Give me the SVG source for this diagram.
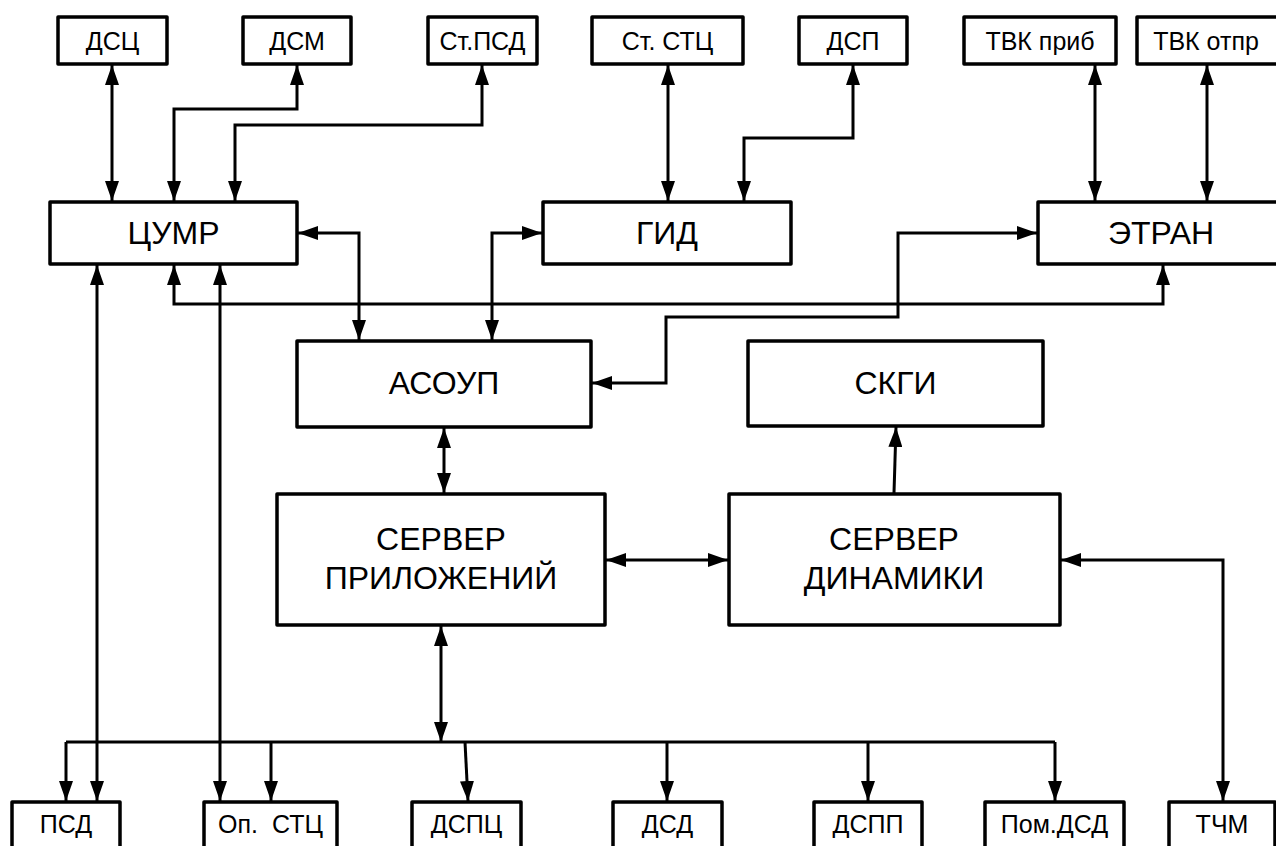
<svg xmlns="http://www.w3.org/2000/svg" width="1276" height="846" viewBox="0 0 1276 846">
<style>
.box{fill:#fff;stroke:#000;stroke-width:3.5;stroke-linejoin:round}
.ln{fill:none;stroke:#000;stroke-width:3}
.t{font-family:"Liberation Sans",Arial,sans-serif;font-size:25px;fill:#000;text-anchor:middle;white-space:pre}
.tl{font-family:"Liberation Sans",Arial,sans-serif;font-size:32px;fill:#000;text-anchor:middle}
.b2{marker-start:url(#ah);marker-end:url(#ah)}
.b1{marker-end:url(#ah)}
</style>
<defs>
<marker id="ah" markerUnits="userSpaceOnUse" markerWidth="20" markerHeight="14" viewBox="0 0 20 14" refX="20" refY="7" orient="auto-start-reverse">
<path d="M0,0 L20,7 L0,14 z" fill="#000"/>
</marker>
</defs>
<rect width="1276" height="846" fill="#fff"/>
<g id="connectors">
<path class="ln b2" d="M112,65 V201"/>
<path class="ln b2" d="M297,65 V109 H174 V201"/>
<path class="ln b2" d="M482,65 V125 H235 V201"/>
<path class="ln b2" d="M298,233 H359 V340"/>
<path class="ln b2" d="M542,233 H492 V340"/>
<path class="ln b2" d="M668,65 V201"/>
<path class="ln b2" d="M853,65 V138 H744 V201"/>
<path class="ln b2" d="M1095,65 V201"/>
<path class="ln b2" d="M1207,65 V201"/>
<path class="ln b2" d="M174,265 V304 H1163 V265"/>
<path class="ln b2" d="M1037,233 H898 V317 H666 V383 H592"/>
<path class="ln b2" d="M444,428 V493"/>
<path class="ln b2" d="M606,560 H728"/>
<path class="ln b1" d="M894,493 L896,427"/>
<path class="ln b2" d="M1061,560 H1223 V801"/>
<path class="ln b2" d="M441,626 V742"/>
<path class="ln" d="M66,742 H1055"/>
<path class="ln b1" d="M66,742 V801"/>
<path class="ln b1" d="M271,742 V801"/>
<path class="ln b1" d="M465,742 L468,801"/>
<path class="ln b1" d="M667,742 V801"/>
<path class="ln b1" d="M868,742 V801"/>
<path class="ln b1" d="M1055,742 V801"/>
<path class="ln b2" d="M97,265 V801"/>
<path class="ln b2" d="M220,265 V801"/>
</g>
<g id="dsc"><rect class="box" x="58" y="17" width="109" height="47"/><text class="t" x="112.5" y="50">ДСЦ</text></g>
<g id="dsm"><rect class="box" x="243" y="17" width="108" height="47"/><text class="t" x="297" y="50">ДСМ</text></g>
<g id="stpsd"><rect class="box" x="428" y="17" width="109" height="47"/><text class="t" x="482.5" y="50">Ст.ПСД</text></g>
<g id="ststc"><rect class="box" x="592" y="17" width="151" height="47"/><text class="t" x="667.5" y="50">Ст. СТЦ</text></g>
<g id="dsp"><rect class="box" x="799" y="17" width="108" height="47"/><text class="t" x="853" y="50">ДСП</text></g>
<g id="tvkprib"><rect class="box" x="964" y="17" width="152" height="47"/><text class="t" x="1040" y="50">ТВК приб</text></g>
<g id="tvkotpr"><rect class="box" x="1137" y="17" width="141" height="47"/><text class="t" x="1206" y="50">ТВК отпр</text></g>
<g id="tsumr"><rect class="box" x="50" y="202" width="247" height="62"/><text class="tl" x="173.5" y="244">ЦУМР</text></g>
<g id="gid"><rect class="box" x="543" y="202" width="248" height="62"/><text class="tl" x="667" y="244">ГИД</text></g>
<g id="etran"><rect class="box" x="1038" y="202" width="252" height="62"/><text class="tl" x="1161" y="244">ЭТРАН</text></g>
<g id="asoup"><rect class="box" x="297" y="341" width="294" height="86"/><text class="tl" x="444" y="394">АСОУП</text></g>
<g id="skgi"><rect class="box" x="748" y="341" width="295" height="85"/><text class="tl" x="895.5" y="394">СКГИ</text></g>
<g id="server_app"><rect class="box" x="277" y="494" width="328" height="131"/><text class="tl" x="441" y="550">СЕРВЕР</text><text class="tl" x="441" y="589">ПРИЛОЖЕНИЙ</text></g>
<g id="server_dyn"><rect class="box" x="729" y="494" width="331" height="131"/><text class="tl" x="894" y="550">СЕРВЕР</text><text class="tl" x="894" y="589">ДИНАМИКИ</text></g>
<g id="psd"><rect class="box" x="12" y="802" width="108" height="60"/><text class="t" x="66" y="833">ПСД</text></g>
<g id="opstc"><rect class="box" x="204" y="802" width="133" height="60"/><text class="t" x="270.5" y="833">Оп.  СТЦ</text></g>
<g id="dspc"><rect class="box" x="412" y="802" width="109" height="60"/><text class="t" x="466.5" y="833">ДСПЦ</text></g>
<g id="dsd"><rect class="box" x="613" y="802" width="109" height="60"/><text class="t" x="667.5" y="833">ДСД</text></g>
<g id="dspp"><rect class="box" x="814" y="802" width="108" height="60"/><text class="t" x="868" y="833">ДСПП</text></g>
<g id="pomdsd"><rect class="box" x="985" y="802" width="139" height="60"/><text class="t" x="1054.5" y="833">Пом.ДСД</text></g>
<g id="tchm"><rect class="box" x="1169" y="802" width="106" height="60"/><text class="t" x="1222" y="833">ТЧМ</text></g>
</svg>
